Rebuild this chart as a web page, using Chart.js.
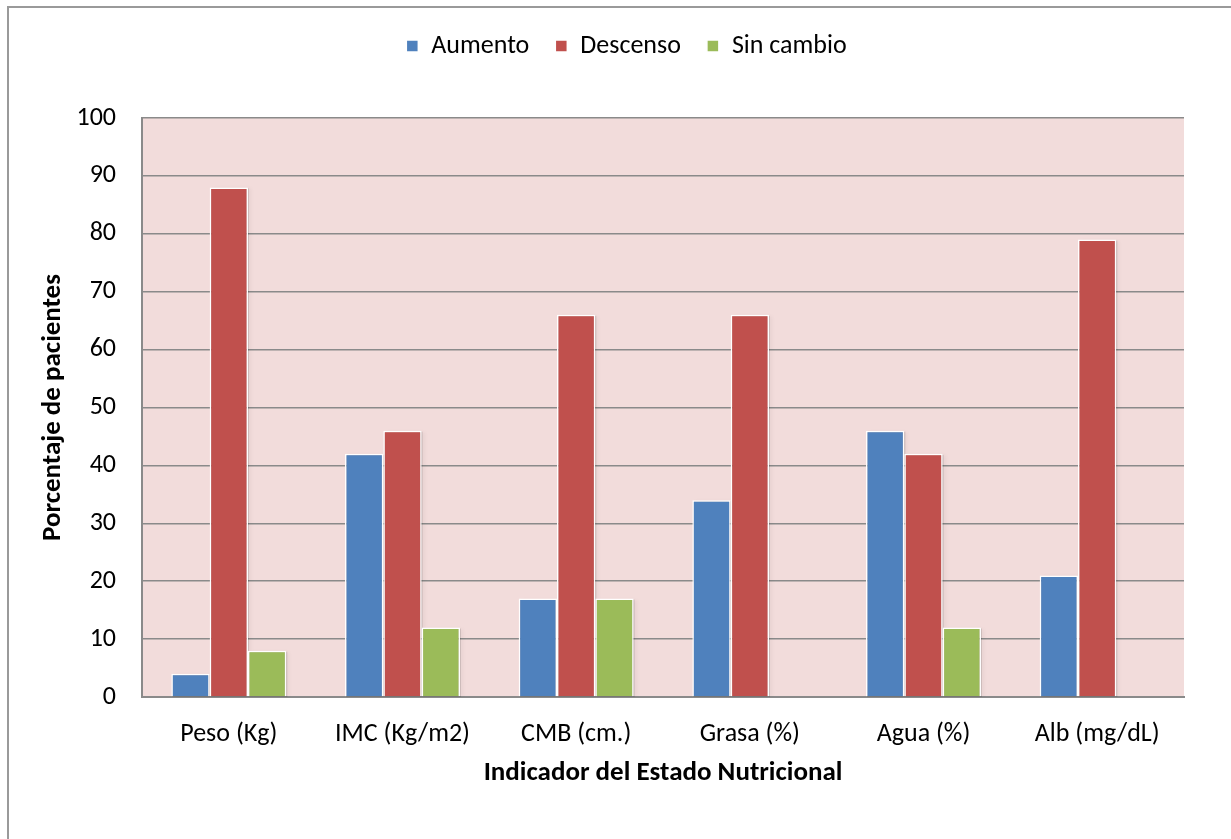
<!DOCTYPE html>
<html>
<head>
<meta charset="utf-8">
<script src="https://cdn.jsdelivr.net/npm/chart.js@4/dist/chart.umd.min.js"></script>
<style>
  html, body { margin: 0; padding: 0; background: #fff; overflow: hidden; }
  #wrap { position: relative; width: 1231px; height: 839px; }
  #frame { position: absolute; left: 7px; top: 6px; width: 1300px; height: 900px;
           border: 2px solid #9a9a9a; box-sizing: border-box; pointer-events: none; }
  canvas { position: absolute; left: 0; top: 0; }
</style>
</head>
<body>
<div id="wrap">
  <canvas id="c" width="1231" height="839"></canvas>
  <div id="frame"></div>
</div>
<script>
const categories = ['Peso (Kg)', 'IMC (Kg/m2)', 'CMB (cm.)', 'Grasa (%)', 'Agua (%)', 'Alb (mg/dL)'];
const aumento   = [4, 42, 17, 34, 46, 21];
const descenso  = [88, 46, 66, 66, 42, 79];
const sinCambio = [8, 12, 17, 0, 12, 0];
const seriesNames = ['Aumento', 'Descenso', 'Sin cambio'];
const yTicks = [0, 10, 20, 30, 40, 50, 60, 70, 80, 90, 100];

const FONT = "Carlito, Lato, 'Liberation Sans', sans-serif";
const PAD_LEFT = 69, PAD_RIGHT = 47, PAD_TOP = 7;

// extra space between the legend row and the plot area
const legendGap = {
  id: 'legendGap',
  beforeInit(chart) {
    const fit = chart.legend.fit;
    chart.legend.fit = function () {
      fit.call(this);
      this.height += 49;
    };
  }
};

// pink plot background
const plotBg = {
  id: 'plotBg',
  beforeDraw(chart) {
    const { ctx, chartArea: a } = chart;
    ctx.save();
    ctx.fillStyle = '#F2DCDB';
    ctx.fillRect(a.left, a.top, a.right - a.left, a.bottom - a.top);
    ctx.restore();
  }
};

// soft drop shadow to the right of each bar
const barShadow = {
  id: 'barShadow',
  beforeDatasetsDraw(chart) {
    const ctx = chart.ctx;
    ctx.save();
    ctx.beginPath();
    const a = chart.chartArea;
    ctx.rect(a.left, a.top, a.right - a.left, a.bottom - a.top);
    ctx.clip();
    chart.data.datasets.forEach((ds, i) => {
      chart.getDatasetMeta(i).data.forEach(bar => {
        const h = bar.base - bar.y;
        if (h <= 0) return;
        ctx.shadowColor = 'rgba(0,0,0,0.35)';
        ctx.shadowBlur = 4;
        ctx.shadowOffsetX = 2;
        ctx.shadowOffsetY = 0;
        ctx.fillStyle = 'rgba(0,0,0,0.12)';
        ctx.fillRect(bar.x - bar.width / 2 + 1, bar.y + 1, bar.width, h);
      });
    });
    ctx.restore();
  }
};

const colors = ['#4F81BD', '#C0504D', '#9BBB59'];
const values = [aumento, descenso, sinCambio];

new Chart(document.getElementById('c'), {
  type: 'bar',
  data: {
    labels: categories,
    datasets: seriesNames.map((name, i) => ({
      label: name,
      data: values[i],
      backgroundColor: colors[i],
      borderColor: '#ffffff',
      borderWidth: 1.5,
      categoryPercentage: 0.662,
      barPercentage: 1.0
    }))
  },
  options: {
    responsive: false,
    animation: false,
    devicePixelRatio: 1,
    layout: { padding: { left: PAD_LEFT, right: PAD_RIGHT, top: PAD_TOP, bottom: 0 } },
    plugins: {
      legend: {
        position: 'top',
        labels: {
          boxWidth: 12,
          boxHeight: 12,
          padding: 26,
          color: '#000',
          font: { family: FONT, size: 26 }
        }
      },
      tooltip: { enabled: false }
    },
    scales: {
      x: {
        afterFit(scale) { scale.height = 142; },
        grid: { display: false, drawTicks: false },
        border: { display: true, color: '#8a8a8a', width: 2 },
        ticks: { color: '#000', padding: 22, font: { family: FONT, size: 26 } },
        title: {
          display: true,
          text: 'Indicador del Estado Nutricional',
          color: '#000',
          font: { family: FONT, size: 27, weight: 'bold' },
          padding: { top: 0, bottom: 50 }
        }
      },
      y: {
        min: 0,
        max: 100,
        afterFit(scale) { scale.width = 142 - PAD_LEFT; },
        afterBuildTicks(scale) { scale.ticks = yTicks.map(v => ({ value: v })); },
        grid: { color: '#8a8a8a', lineWidth: 1.5, drawTicks: false },
        border: { display: true, color: '#8a8a8a', width: 2 },
        ticks: { color: '#000', padding: 26, font: { family: FONT, size: 26 } },
        title: {
          display: true,
          text: 'Porcentaje de pacientes',
          color: '#000',
          font: { family: FONT, size: 27, weight: 'bold' },
          padding: { top: -32, bottom: 0 }
        }
      }
    }
  },
  plugins: [legendGap, plotBg, barShadow]
});
</script>
</body>
</html>
